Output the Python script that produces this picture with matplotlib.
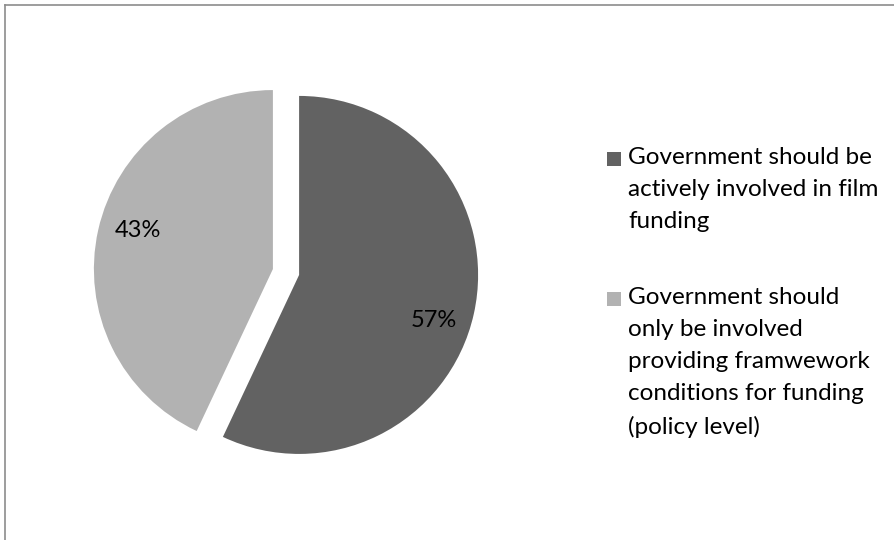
import matplotlib.pyplot as plt
from matplotlib.patches import Rectangle
from matplotlib.lines import Line2D

plt.rcParams['font.family'] = ['Lato', 'DejaVu Sans']

shares = [57, 43]
labels = ["Government should be\nactively involved in film\nfunding",
          "Government should\nonly be involved\nproviding framwework\nconditions for funding\n(policy level)"]
colors = ['#626262', '#b2b2b2']

W, H = 895, 540
fig = plt.figure(figsize=(W / 100, H / 100), dpi=100)

# pie centre (286, 272) px, radius 179 px
cx, cy, R, half = 286, 272, 179, 210
ax = fig.add_axes([(cx - half) / W, (H - cy - half) / H, 2 * half / W, 2 * half / H])
wedges, texts, autotexts = ax.pie(shares, colors=colors, startangle=90, counterclock=False,
                                  explode=[0.075, 0.075], autopct='%d%%', pctdistance=0.77,
                                  textprops={'fontsize': 17, 'color': 'black'})
ax.set_xlim(-half / R, half / R)
ax.set_ylim(-half / R, half / R)
ax.set_aspect('equal')
# Excel nudges the labels off the pure radial spot
for t, dy in zip(autotexts, [-0.085, 0.045]):
    x, y = t.get_position()
    t.set_position((x, y + dy))

# legend drawn by hand to get Excel-like wrapping
fs = 17.5
tops = [147, 287]
for w, lab, top in zip(wedges, labels, tops):
    fig.patches.append(Rectangle((607 / W, 1 - (top + 19) / H), 14 / W, 14 / H,
                                 transform=fig.transFigure, facecolor=w.get_facecolor(),
                                 edgecolor='none'))
    fig.text(628 / W, 1 - top / H, lab, fontsize=fs, va='top', ha='left', linespacing=1.65)

# chart frame (only top and left edges visible)
fig.lines.append(Line2D([5 / W, 5 / W], [0, 1 - 5 / H], transform=fig.transFigure,
                        color='#8c8c8c', lw=1.2))
fig.lines.append(Line2D([5 / W, 1], [1 - 5 / H, 1 - 5 / H], transform=fig.transFigure,
                        color='#8c8c8c', lw=1.2))

fig.savefig('out.png', dpi=100)
